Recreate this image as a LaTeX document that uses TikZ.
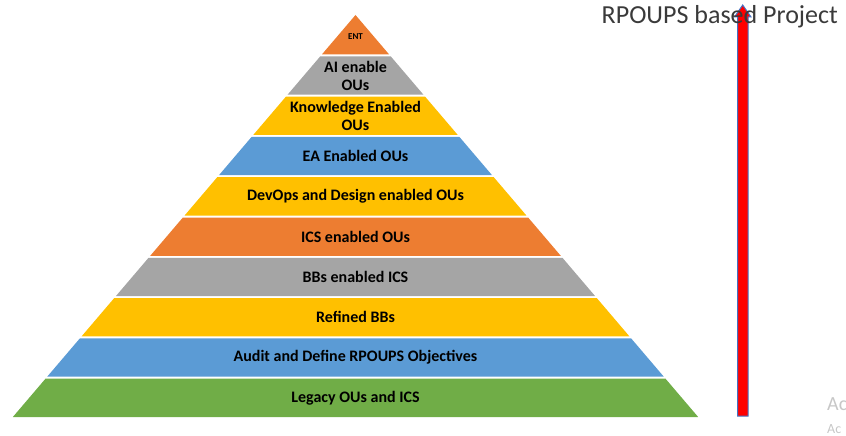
\documentclass[tikz,border=0pt]{standalone}
\usepackage{fontspec}
\setmainfont{Carlito}
\definecolor{corange}{HTML}{ED7D31}
\definecolor{cgray}{HTML}{A5A5A5}
\definecolor{cgold}{HTML}{FFC000}
\definecolor{cblue}{HTML}{5B9BD5}
\definecolor{cgreen}{HTML}{70AD47}
\definecolor{cedge}{HTML}{4472C4}
\definecolor{ctitle}{HTML}{3A3A3A}
\tikzset{
  lbl/.style={font=\bfseries\fontsize{16}{18}\selectfont, text=black, align=center, inner sep=0pt},
  title/.style={font=\fontsize{26}{28}\selectfont, text=ctitle, inner sep=0pt, anchor=east},
  wm/.style={text=black!22, inner sep=0pt, anchor=west}
}
\begin{document}
\begin{tikzpicture}[x=1pt,y=-1pt]
\useasboundingbox (0,0) rectangle (846,436);
\def\cx{355.5}
\def\ap{15}
\def\h{40.3}
\def\k{0.8524}
\foreach \i/\col in {0/corange,1/cgray,2/cgold,3/cblue,4/cgold,5/corange,6/cgray,7/cgold,8/cblue,9/cgreen}{
  \pgfmathsetmacro\yt{\ap+\h*\i+(\i>0?1:0)}
  \pgfmathsetmacro\yb{\ap+\h*(\i+1)-1}
  \pgfmathsetmacro\wt{(\yt-\ap)*\k}
  \pgfmathsetmacro\wb{(\yb-\ap)*\k}
  \fill[\col] (\cx-\wt,\yt) -- (\cx+\wt,\yt) -- (\cx+\wb,\yb) -- (\cx-\wb,\yb) -- cycle;
}
\node[lbl, font=\bfseries\fontsize{9}{10}\selectfont] (l0) at (\cx,37) {ENT};
\node[lbl] (l1) at (\cx,75.5) {AI enable\\OUs};
\node[lbl] (l2) at (\cx,115.8) {Knowledge Enabled\\OUs};
\node[lbl] (l3) at (\cx,156.0) {EA Enabled OUs};
\node[lbl] (l4) at (\cx,196.3) {DevOps and Design enabled OUs};
\node[lbl] (l5) at (\cx,236.6) {ICS enabled OUs};
\node[lbl] (l6) at (\cx,276.9) {BBs enabled ICS};
\node[lbl] (l7) at (\cx,317.2) {Refined BBs};
\node[lbl] (l8) at (\cx,357.5) {Audit and Define RPOUPS Objectives};
\node[lbl] (l9) at (\cx,397.8) {Legacy OUs and ICS};
% arrow
\filldraw[fill=red, draw=cedge, line width=1pt, line join=miter]
  (737.5,416) -- (737.5,17) -- (734.5,17) -- (742.7,5) -- (751,17) -- (748,17) -- (748,416) -- cycle;
\node[title] (t) at (838,17) {RPOUPS based Project};
\begin{scope}
\clip (0,0) rectangle (846,436);
\node[wm, font=\fontsize{20}{22}\selectfont] (w1) at (827,404) {Ac};
\node[wm, font=\fontsize{14}{15}\selectfont] (w2) at (827,429) {Ac};
\end{scope}
\end{tikzpicture}
\end{document}
